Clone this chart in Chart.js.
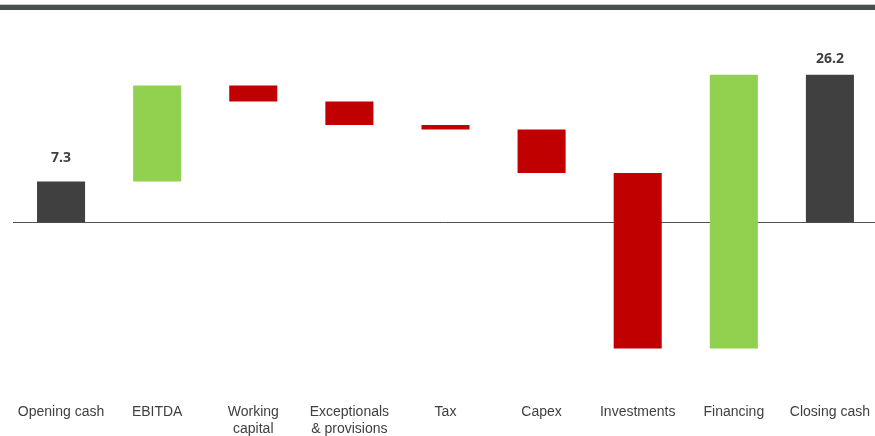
<!DOCTYPE html>
<html>
<head>
<meta charset="utf-8">
<script src="https://cdn.jsdelivr.net/npm/chart.js@4.4.1/dist/chart.umd.min.js"></script>
<style>
    html, body { margin: 0; padding: 0; background: #fff; overflow: hidden; }
    #wrap { position: relative; width: 875px; height: 436px; overflow: hidden; }
    #inner { position: absolute; left: 0; top: 0; width: 882px; height: 436px; }
    #band { position: absolute; left: 0; top: 4px; width: 875px; height: 5px; background: #4b4f4f; border-top: 1px solid #c8c8c8; }
</style>
</head>
<body>
<div id="wrap">
    <div id="inner"><canvas id="cashChart"></canvas></div>
    <div id="band"></div>
</div>
<script>
const categories = [
    'Opening cash', 'EBITDA', ['Working', 'capital'], ['Exceptionals', '& provisions'],
    'Tax', 'Capex', 'Investments', 'Financing', 'Closing cash'
];
const values = [7.3, 17.0, -2.8, -4.2, -0.8, -7.7, -31.1, 48.5, 26.2];
const isTotal = [true, false, false, false, false, false, false, false, true];

const totalColor = '#404040';
const upColor = '#92d050';
const downColor = '#c00000';

// build floating ranges from the running total
let running = 0;
const ranges = [];
const colors = [];
values.forEach((v, i) => {
    if (isTotal[i]) {
        ranges.push([0, v]);
        running = v;
        colors.push(totalColor);
    } else {
        ranges.push([running, running + v]);
        running += v;
        colors.push(v >= 0 ? upColor : downColor);
    }
});

const totalLabels = {
    id: 'totalLabels',
    afterDatasetsDraw(chart) {
        const ctx = chart.ctx;
        const meta = chart.getDatasetMeta(0);
        ctx.save();
        ctx.font = 'bold 14px "Open Sans"';
        ctx.fillStyle = '#404040';
        ctx.textAlign = 'center';
        ctx.textBaseline = 'middle';
        meta.data.forEach((bar, i) => {
            if (!isTotal[i]) return;
            const off = i === 0 ? 23.5 : 16;
            ctx.fillText(values[i].toFixed(1), bar.x, bar.y - off);
        });
        ctx.restore();
    }
};

new Chart(document.getElementById('cashChart'), {
    type: 'bar',
    data: {
        labels: categories,
        datasets: [{
            data: ranges,
            backgroundColor: colors,
            borderWidth: 0,
            barPercentage: 0.5,
            categoryPercentage: 1.0
        }]
    },
    options: {
        responsive: true,
        maintainAspectRatio: false,
        animation: false,
        layout: { padding: { left: 13, right: 0, top: 25.2, bottom: 0 } },
        plugins: {
            legend: { display: false },
            tooltip: { enabled: false }
        },
        scales: {
            x: {
                grid: { display: false, drawTicks: false },
                border: { display: false },
                afterFit: scale => { scale.height = 44; },
                ticks: {
                    padding: 12,
                    color: '#3f3f3f',
                    font: { family: '"Liberation Sans", Arial, sans-serif', size: 14, lineHeight: 1.2 },
                    maxRotation: 0,
                    autoSkip: false
                }
            },
            y: {
                min: -30,
                max: 35,
                border: { display: false },
                grid: {
                    drawTicks: false,
                    color: ctx => ctx.tick && ctx.tick.value === 0 ? '#505050' : 'rgba(0,0,0,0)',
                    lineWidth: 1
                },
                ticks: { display: false, stepSize: 5 }
            }
        }
    },
    plugins: [totalLabels]
});
</script>
</body>
</html>
